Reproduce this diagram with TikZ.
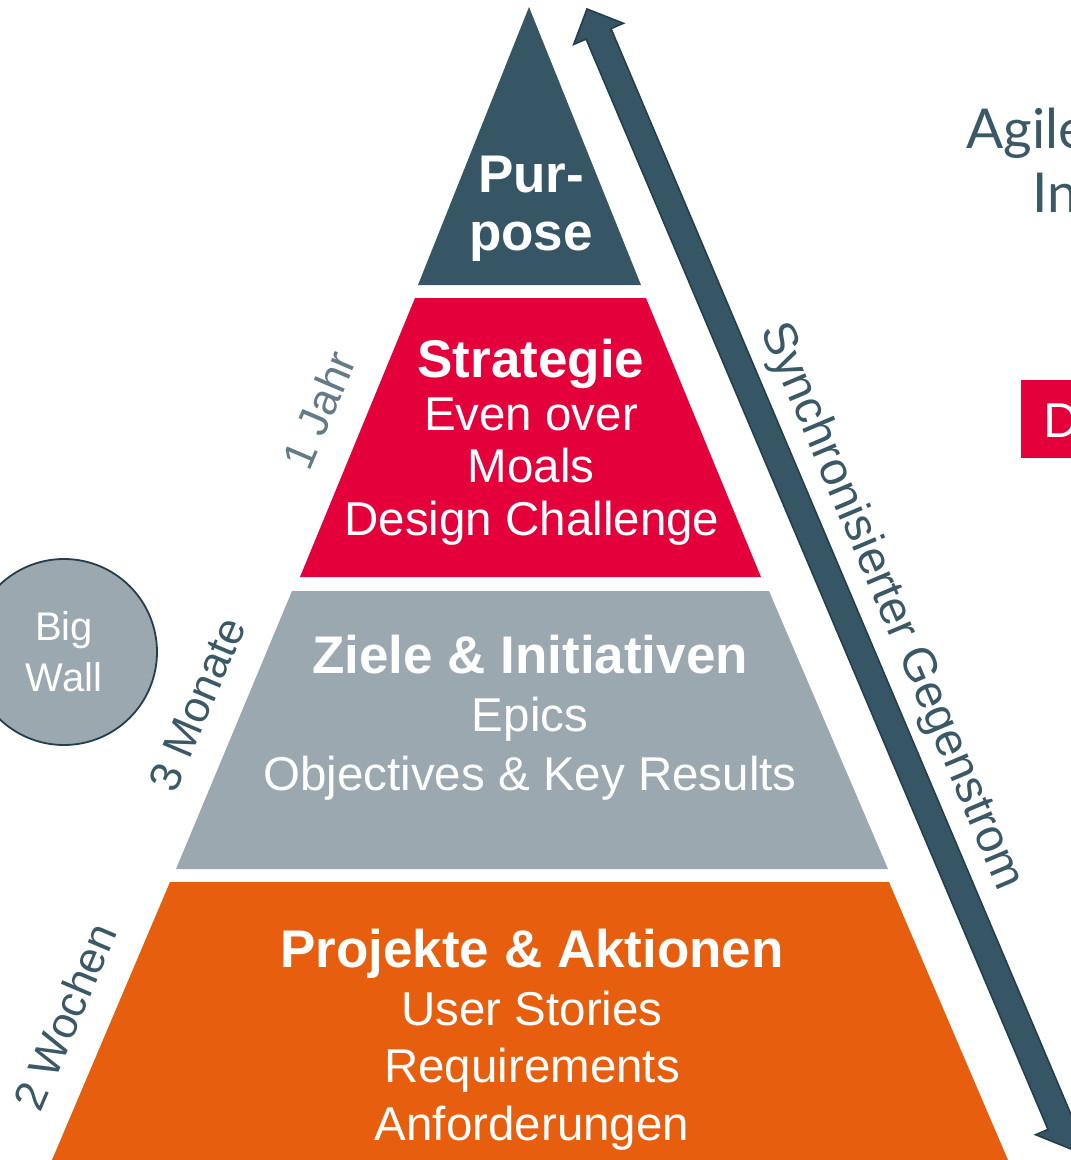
\documentclass[tikz,border=0pt]{standalone}
\usepackage{fontspec}
\setmainfont{Liberation Sans}
\newfontfamily\uifont{Lato}
\definecolor{slate}{HTML}{375665}
\definecolor{slatedark}{HTML}{243E4B}
\definecolor{slatetext}{HTML}{3A5866}
\definecolor{slatelight}{HTML}{637A87}
\definecolor{tierred}{HTML}{E4003A}
\definecolor{tiergrey}{HTML}{9BA8AF}
\definecolor{tierorange}{HTML}{E85E0F}
\tikzset{
  tiertext/.style={anchor=base, text=white, inner sep=0pt},
  headfont/.style={font=\bfseries\fontsize{53}{60}\selectfont},
  bodyfont/.style={font=\fontsize{47.5}{55}\selectfont},
  sidelabel/.style={rotate=67, inner sep=0pt, font=\fontsize{44}{50}\selectfont},
}
\begin{document}
\begin{tikzpicture}[x=1pt,y=-1pt]
\useasboundingbox (0,0) rectangle (1071,1160);
\clip (0,0) rectangle (1071,1160);

% pyramid tiers
\fill[slate] (529,7) -- (641,285) -- (418,285) -- cycle;
\fill[tierred] (415,298) -- (646,298) -- (761,577) -- (300,577) -- cycle;
\fill[tiergrey] (292,591) -- (769,591) -- (888,869) -- (176,869) -- cycle;
\fill[tierorange] (170,882) -- (889,882) -- (1008,1160) -- (52,1160) -- cycle;

% double arrow
\coordinate (atop) at (587,9);
\coordinate (abot) at (1071,1149);
\filldraw[fill=slate, draw=slatedark, line width=1.6pt, line join=miter]
  (atop) -- (623.4,23.3) -- (611,28.6) -- (1072.9,1118.9) -- (1085.3,1113.6)
  -- (abot) -- (1035.6,1134.7) -- (1048,1129.4) -- (586.1,39.1) -- (573.7,44.4) -- cycle;

% Purpose
\node[tiertext, headfont] (pur) at (531,192) {Pur-};
\node[tiertext, headfont] (pose) at (531,250) {pose};

% Strategie
\node[tiertext, headfont] (strat) at (531,377) {Strategie};
\node[tiertext, bodyfont] (even) at (531,430) {Even over};
\node[tiertext, bodyfont] (moals) at (531,482.5) {Moals};
\node[tiertext, bodyfont] (design) at (532,535) {Design Challenge};

% Ziele
\node[tiertext, headfont] (ziele) at (530,673) {Ziele \& Initiativen};
\node[tiertext, bodyfont] (epics) at (530,731.5) {Epics};
\node[tiertext, bodyfont] (okr) at (530,790) {Objectives \& Key Results};

% Projekte
\node[tiertext, headfont] (proj) at (532,967) {Projekte \& Aktionen};
\node[tiertext, bodyfont] (us) at (532,1025) {User Stories};
\node[tiertext, bodyfont] (req) at (532,1082) {Requirements};
\node[tiertext, bodyfont] (anf) at (532,1140) {Anforderungen};

% side labels
\node[sidelabel, text=slatelight] (jahr) at (319,410) {1 Jahr};
\node[sidelabel, text=slatetext] (monate) at (197,704) {3 Monate};
\node[sidelabel, text=slatetext] (wochen) at (65,1017) {2 Wochen};

% arrow label
\node[rotate=-67, inner sep=0pt, text=slatetext, font=\fontsize{47}{50}\selectfont]
  (sync) at (891,607) {Synchronisierter Gegenstrom};

% Big Wall
\node[circle, fill=tiergrey, draw=slatedark, line width=1.8pt, minimum size=186pt,
  inner sep=0pt, text=white, align=center, font=\fontsize{40}{51}\selectfont]
  (bigwall) at (64,652) {Big\\Wall};

% right side (cut off)
\node[anchor=base west, inner sep=0pt, text=slatetext, font=\uifont\fontsize{55}{60}\selectfont]
  (agile) at (966,148) {Agile};
\node[anchor=base west, inner sep=0pt, text=slatetext, font=\uifont\fontsize{55}{60}\selectfont]
  (in) at (1032,212) {In};
\fill[tierred] (1021,380) rectangle (1090,458);
\node[anchor=base west, inner sep=0pt, text=white, font=\uifont\fontsize{47}{50}\selectfont]
  (dbox) at (1043,437) {D};
\end{tikzpicture}
\end{document}
